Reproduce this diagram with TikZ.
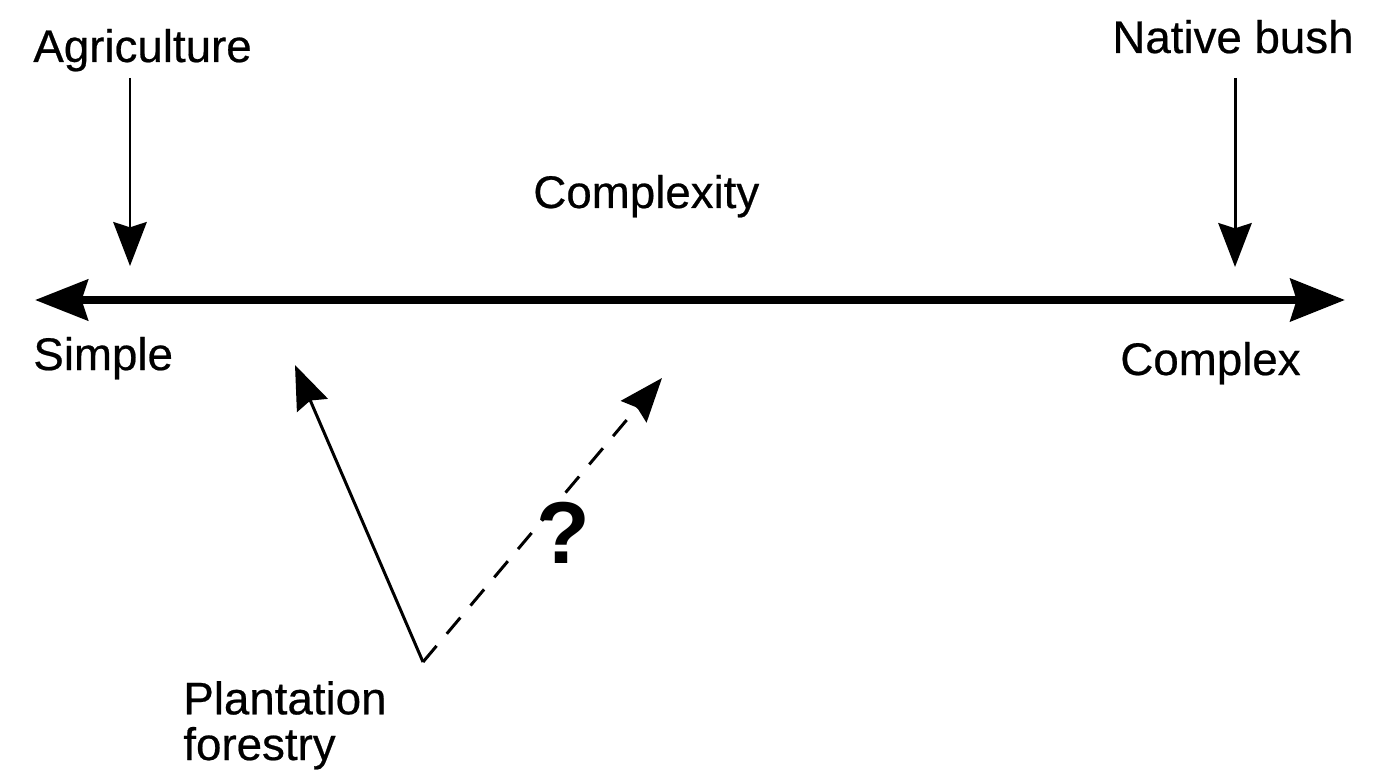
\documentclass[tikz,border=0pt]{standalone}
\usepackage{fontspec}
\setmainfont{Liberation Sans}
\usetikzlibrary{arrows.meta}
\tikzset{
  txt/.style = {inner sep=0pt, anchor=base west,
    font=\fontsize{26}{26}\selectfont\addfontfeatures{FakeBold=0.5}},
  axis/.style = {line width=4.8pt,
    {Stealth[length=30pt,width=23pt,inset=3.5pt]}-{Stealth[length=31pt,width=24pt,inset=3.5pt]}},% main scale
  pointer/.style = {line width=1.7pt,
    -{Stealth[length=25pt,width=19pt,inset=3pt]}},
  guess/.style = {pointer, dash pattern=on 12pt off 9pt}% uncertain path
}
\begin{document}
\begin{tikzpicture}[x=0.02cm, y=-0.02cm]
    \useasboundingbox (0,0) rectangle (1381,780);
    % labels
    \node [txt] (agri) at (33,62) {Agriculture};
    \node [txt] (bush) at (1112,53) {Native bush};
    \node [txt] (cplx) at (533,208) {Complexity};
    \node [txt] (simple) at (33,370) {Simple};
    \node [txt] (complex) at (1120,375) {Complex};
    \node [txt, align=left] (plant) at (183,760) {Plantation\\forestry};
    \node [inner sep=0pt, anchor=base,
      font=\fontsize{50}{50}\selectfont\bfseries] (qmark) at (563,563) {?};
    % arrow ends
    \coordinate (left) at (35,300);
    \coordinate (right) at (1345,300);
    \coordinate (agriTop) at (130,78);
    \coordinate (agriTip) at (130,266);
    \coordinate (bushTop) at (1235,78);
    \coordinate (bushTip) at (1235,267);
    \coordinate (vertex) at (423,662);
    \coordinate (solidTip) at (295,365);
    \coordinate (dashTip) at (662,378);
    % arrows
    \draw [axis] (left) -- (right);
    \draw [pointer] (agriTop) -- (agriTip);
    \draw [pointer] (bushTop) -- (bushTip);
    \draw [pointer] (vertex) -- (solidTip);
    \draw [guess] (vertex) -- (dashTip);
\end{tikzpicture}
\end{document}
